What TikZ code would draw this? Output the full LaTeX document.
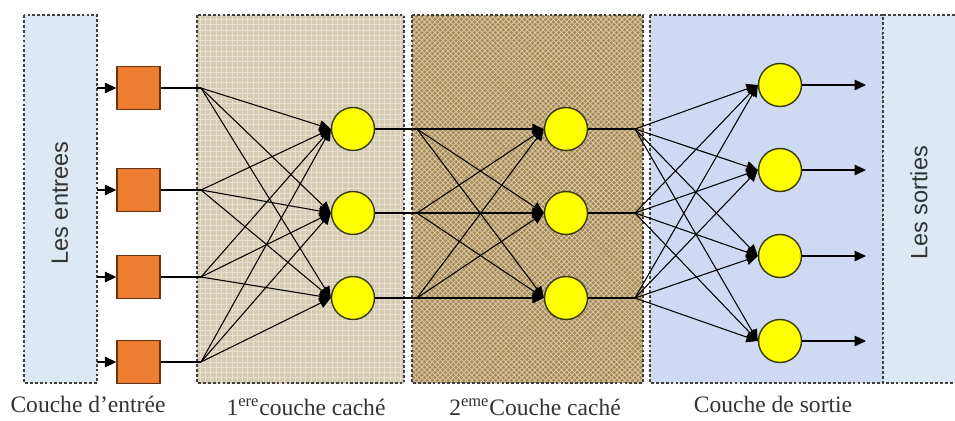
\documentclass[tikz,border=0pt]{standalone}
\usepackage{fontspec}
\setmainfont{Liberation Serif}
\setsansfont{Liberation Sans}
\usetikzlibrary{arrows.meta,patterns}
\definecolor{inblue}{HTML}{DCE8F4}
\definecolor{hidA}{HTML}{D5CAB2}
\definecolor{hidAg}{HTML}{E7E0D1}
\definecolor{hidB}{HTML}{A68A5C}
\definecolor{hidBg}{HTML}{DFCFA9}
\definecolor{outbg}{HTML}{CCDAF3}
\definecolor{outbgp}{HTML}{DDD6F0}
\definecolor{sqfill}{HTML}{ED7D31}
\definecolor{sqdraw}{HTML}{6B3212}
\definecolor{cifill}{HTML}{FFFF00}
\definecolor{cidraw}{HTML}{3A3A10}
\definecolor{txt}{HTML}{333333}
\definecolor{bord}{HTML}{404040}
\begin{document}
\begin{tikzpicture}[x=0.02cm,y=-0.02cm,
  panelborder/.style={draw=bord,line width=0.9pt,dash pattern=on 1.6pt off 1.2pt},
  sqnode/.style={draw=sqdraw,fill=sqfill,line width=0.8pt,minimum size=0.86cm,inner sep=0pt},
  cinode/.style={circle,draw=cidraw,fill=cifill,line width=0.8pt,minimum size=0.86cm,inner sep=0pt},
  conn/.style={line width=0.6pt,black},
  arr/.style={line width=0.6pt,black,-{Triangle[length=6.5pt,width=6pt]}},
  lab/.style={text=txt,font=\fontsize{13.4}{16}\selectfont,inner sep=0pt},
  sidelab/.style={text=txt,font=\sffamily\fontsize{13.4}{16}\selectfont,rotate=90,inner sep=0pt}]
\useasboundingbox (0,0) rectangle (955,420);
% panels
\fill[inblue] (24,15) rectangle (97,383);
\draw[panelborder] (24,15) rectangle (97,383);
\fill[hidA] (197,15) rectangle (404,383);
\fill[pattern=grid,pattern color=hidAg] (197,15) rectangle (404,383);
\draw[panelborder] (197,15) rectangle (404,383);
\fill[hidB] (412,15) rectangle (643,383);
\fill[pattern=crosshatch,pattern color=hidBg] (412,15) rectangle (643,383);
\draw[panelborder] (412,15) rectangle (643,383);
\fill[outbg] (650,15) rectangle (883,383);
\fill[pattern=crosshatch dots,pattern color=outbgp] (650,15) rectangle (883,383);
\draw[panelborder] (650,15) rectangle (883,383);
\fill[inblue] (883,15) rectangle (955,383);
\draw[panelborder] (955,15) -- (883,15) -- (883,383) -- (955,383);
% side labels
\node[sidelab] (lesin) at (60,203) {Les entrees};
\node[sidelab] (lesout) at (919,203) {Les sorties};
% input squares
\foreach \i/\y in {1/88,2/190,3/277,4/362}{
  \coordinate (s\i) at (97,\y);
  \node[sqnode] (in\i) at (138.5,\y) {};
  \coordinate (p\i) at (201,\y);
  \draw[arr] (s\i) -- (in\i.west);
  \draw[conn] (in\i.east) -- (p\i);
}
% hidden layers
\foreach \i/\y in {1/129,2/213,3/298}{
  \node[cinode] (h\i) at (353,\y) {};
  \coordinate (q\i) at (417,\y);
  \node[cinode] (g\i) at (566,\y) {};
  \coordinate (r\i) at (635,\y);
  \draw[conn] (h\i.east) -- (q\i);
  \draw[conn] (g\i.east) -- (r\i);
}
% output layer
\foreach \i/\y in {1/85,2/170,3/256,4/341}{
  \node[cinode] (o\i) at (780,\y) {};
  \coordinate (t\i) at (866,\y);
  \draw[arr] (o\i.east) -- (t\i);
}
% fans
\foreach \i in {1,2,3,4}{
  \foreach \j in {1,2,3}{
    \draw[arr] (p\i) -- (h\j.west);
  }
}
\foreach \i in {1,2,3}{
  \foreach \j in {1,2,3}{
    \draw[arr] (q\i) -- (g\j.west);
  }
  \foreach \j in {1,2,3,4}{
    \draw[arr] (r\i) -- (o\j.west);
  }
}
% bottom labels
\node[lab] (l1) at (88,404) {Couche d'entrée};
\node[lab] (l2) at (306,407) {1\textsuperscript{ere}couche caché};
\node[lab] (l3) at (535,407) {2\textsuperscript{eme}Couche caché};
\node[lab] (l4) at (773,404) {Couche de sortie};
\end{tikzpicture}
\end{document}
